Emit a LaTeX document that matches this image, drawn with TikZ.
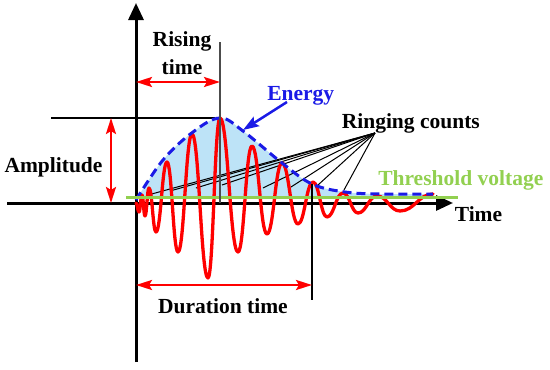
\documentclass[tikz,border=0pt]{standalone}
\usepackage{fontspec}
\setmainfont{Liberation Serif}
\usetikzlibrary{arrows.meta}
\definecolor{thr}{HTML}{92D050}
\definecolor{envfill}{HTML}{BDE3F7}
\definecolor{envblue}{HTML}{1A1AE6}
\definecolor{sigred}{HTML}{FF0000}
\begin{document}
\begin{tikzpicture}[x=1pt,y=-1pt,
  lbl/.style={font=\fontsize{21.5}{24}\selectfont\bfseries, inner sep=0pt, anchor=base},
  axisline/.style={line width=3pt, black, -{Triangle[length=17pt,width=15pt]}},
  refline/.style={line width=2.5pt, black},
  thinref/.style={line width=1.6pt, black!70},
  dimarrow/.style={line width=2.5pt, sigred, {Stealth[length=16pt,width=10pt,inset=3pt]}-{Stealth[length=16pt,width=10pt,inset=3pt]}},
  fanline/.style={line width=1pt, black},
  wave/.style={line width=3.3pt, sigred, line join=round, line cap=round},
  envelope/.style={line width=3pt, envblue, dash pattern=on 9pt off 5pt},
  threshold/.style={line width=3pt, thr}
]
\useasboundingbox (0,0) rectangle (550,370);

% energy fill
\fill[envfill] plot[smooth, tension=0.6] coordinates {(136,200) (163,160) (193,132) (220,118) (243,131) (282,163) (312,184) (345,192) (380,194) (433,194)} -- (433,197) -- (136,197) -- cycle;

% axes
\coordinate (xstart) at (7,203);
\coordinate (xend) at (453,203);
\coordinate (ystart) at (136,362);
\coordinate (yend) at (136,3);
\draw[axisline] (xstart) -- (xend);
\draw[axisline] (ystart) -- (yend);

% amplitude reference line
\coordinate (ampL) at (51,118);
\coordinate (ampR) at (215,118);
\draw[refline] (ampL) -- (ampR);

% ringing count fan
\node[lbl] (ring) at (410.8,128) {Ringing counts};
\coordinate (fan) at (375,133);
\foreach \ex/\ey [count=\i] in {148/195, 170/191, 196/188, 222/185, 263/188, 291/187, 318/185, 344/190} {
  \coordinate (f\i) at (\ex,\ey);
  \draw[fanline] (fan) -- (f\i);
}

% signal
\draw[wave] (136,203) foreach [remember=\x as \px (initially 136), remember=\y as \py (initially 203)] \x/\y in {139/212, 142/195, 145/216, 149/188, 156/232, 167/162, 178/252, 192/134, 208/278, 220/118, 238/252, 252/146, 267/234, 282/163, 298/224, 313/182, 327/217, 343/193, 358/213, 377/196, 400/211, 433/194} { .. controls ({\px+0.44*(\x-\px)},\py) and ({\x-0.44*(\x-\px)},\y) .. (\x,\y) };

% envelope
\draw[envelope] plot[smooth, tension=0.6] coordinates {(136,200) (163,160) (193,132) (220,118) (243,131) (282,163) (312,184) (345,192) (380,194) (433,194)};

% threshold
\coordinate (thL) at (126,197);
\coordinate (thR) at (458,197);
\draw[threshold] (thL) -- (thR);

% rising time
\coordinate (riseTop) at (220,42);
\coordinate (riseBot) at (220,203);
\draw[thinref] (riseTop) -- (riseBot);
\coordinate (riseA) at (136,82);
\coordinate (riseB) at (220,82);
\draw[dimarrow] (riseA) -- (riseB);
\node[lbl] (rising) at (182,46.7) {Rising};
\node[lbl] (risetime) at (182,74) {time};

% duration
\coordinate (durTop) at (312,184);
\coordinate (durBot) at (312,300);
\draw[line width=2pt, black] (durTop) -- (durBot);
\coordinate (durA) at (136,285);
\coordinate (durB) at (312,285);
\draw[dimarrow] (durA) -- (durB);
\node[lbl] (duration) at (223,313.3) {Duration time};

% amplitude
\coordinate (ampTop) at (111,118);
\coordinate (ampBot) at (111,203);
\draw[dimarrow] (ampTop) -- (ampBot);
\node[lbl] (amplitude) at (53.5,172) {Amplitude};

% energy
\node[lbl, text=envblue] (energy) at (300.8,100.7) {Energy};
\coordinate (enA) at (287,102);
\coordinate (enB) at (243,130);
\draw[line width=2.5pt, envblue, -{Stealth[length=16pt,width=11pt,inset=3pt]}] (enA) -- (enB);

% other labels
\node[lbl, text=thr] (thlabel) at (460.8,185) {Threshold voltage};
\node[lbl] (time) at (478.5,221.7) {Time};
\end{tikzpicture}
\end{document}
